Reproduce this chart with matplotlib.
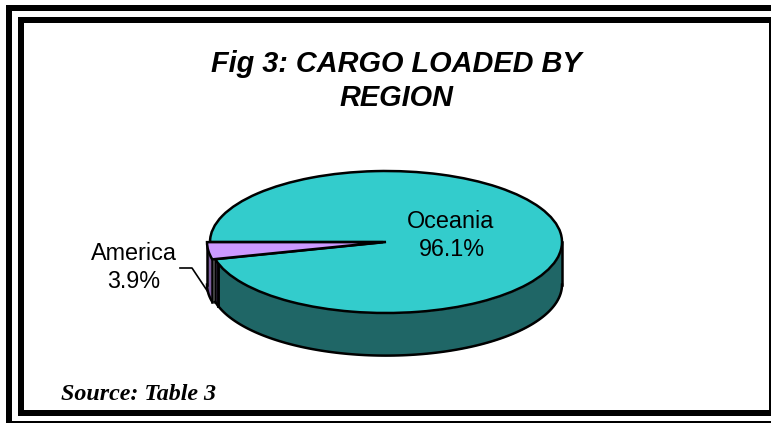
import numpy as np
import matplotlib
matplotlib.use("Agg")
import matplotlib.pyplot as plt
from matplotlib.patches import Rectangle

labels = ["America", "Oceania"]
shares = [3.9, 96.1]
title_lines = ["Fig 3: CARGO LOADED BY", "REGION"]
source_note = "Source: Table 3"

top_colors = ["#cc99ff", "#33cccc"]
wall_colors = ["#7f5fa0", "#1f6666"]

W, H = 771, 423
DEPTH = 0.6  # wall height in units of the pie's vertical radius
RX, RY = 176, 71


def add_frame(fig):
    bars = [
        (6, 5, 765, 6), (18, 17, 753, 6),      # top
        (6, 5, 6, 416), (18, 17, 6, 399),      # left
        (18, 410, 753, 6), (6, 421, 765, 2),   # bottom
        (769, 23, 2, 387),                     # right
    ]
    for x, y, w, h in bars:
        fig.add_artist(Rectangle((x / W, 1 - (y + h) / H), w / W, h / H,
                                 transform=fig.transFigure, color="black", lw=0))


def draw_wall(ax, start, end, color, shift=0.0):
    t = np.radians(np.linspace(start, end, 120))
    x = np.cos(t) + shift
    y = np.sin(t)
    ax.fill_between(x, y - DEPTH, y, color=color, lw=0, zorder=1)
    ax.plot(x, y - DEPTH, color="black", lw=1.8, zorder=2)
    for edge in (0, -1):
        ax.plot([x[edge], x[edge]], [y[edge], y[edge] - DEPTH], color="black", lw=1.8, zorder=2)


fig = plt.figure(figsize=(W / 100, H / 100), dpi=100)
add_frame(fig)

# pie squashed with a free aspect, centre (386, 242)
ax = fig.add_axes([(386 - RX) / W, 1 - (242 + RY * (1 + DEPTH)) / H,
                   2 * RX / W, RY * (2 + DEPTH) / H])

start = 180
angles = np.cumsum([0] + shares) * 3.6 + start
nudge = 3 / RX  # America slice is pulled out a little

# cut face of the America slice, then its rim, then the Oceania wall
draw_wall(ax, angles[0], angles[1], wall_colors[0], shift=-nudge)
draw_wall(ax, angles[1], 197.5, wall_colors[0])
draw_wall(ax, 197.5, 360, wall_colors[1])

wedges, _ = ax.pie(shares, colors=top_colors, startangle=start, radius=1, center=(0, 0),
                   explode=(nudge, 0),
                   wedgeprops={"edgecolor": "black", "linewidth": 1.8})
for w in wedges:
    w.set_zorder(3)
wedges[0].set_zorder(4)
ax.set_aspect("auto")
ax.set_xlim(-1, 1)
ax.set_ylim(-1 - DEPTH, 1)
ax.axis("off")
for artist in ax.get_children():
    artist.set_clip_on(False)

tx = dict(transform=fig.transFigure, ha="center", va="center")
sans = "Liberation Sans"
for line, y in zip(title_lines, [64, 98]):
    fig.text(396 / W, 1 - y / H, line, fontfamily=sans, fontsize=20.8, fontweight="bold",
             fontstyle="italic", **tx)
fig.text(61 / W, 1 - 394 / H, source_note, fontfamily="Liberation Serif", fontsize=17.3,
         fontweight="bold", fontstyle="italic", transform=fig.transFigure, ha="left", va="center")

fig.text(451 / W, 1 - 221 / H, labels[1], fontfamily=sans, fontsize=16.8, **tx)
fig.text(452 / W, 1 - 250 / H, f"{shares[1]}%", fontfamily=sans, fontsize=16.8, **tx)
fig.text(134 / W, 1 - 254 / H, labels[0], fontfamily=sans, fontsize=16.8, **tx)
fig.text(134 / W, 1 - 282 / H, f"{shares[0]}%", fontfamily=sans, fontsize=16.8, **tx)

# leader line for America
fig.add_artist(plt.Line2D(np.array([180, 192, 208]) / W, 1 - np.array([268, 268, 292]) / H,
                          color="black", lw=1.2))

fig.savefig("out.png", dpi=100, facecolor="white")
